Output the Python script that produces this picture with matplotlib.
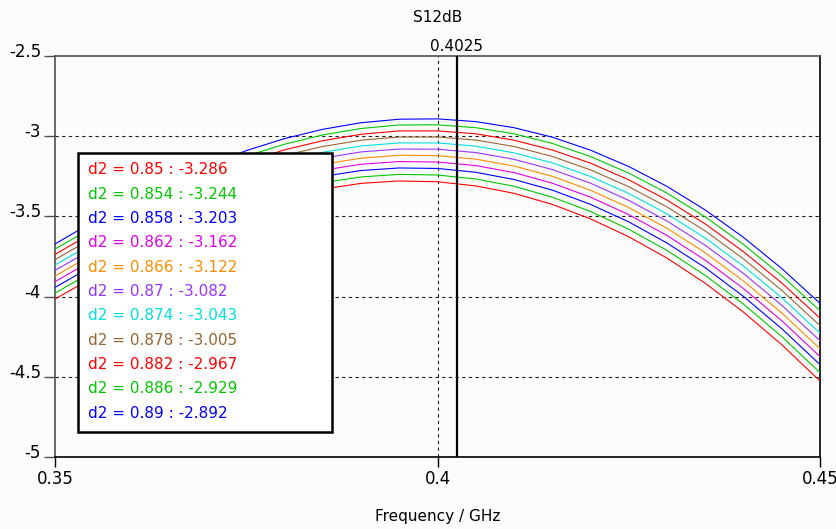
import matplotlib
matplotlib.use("Agg")
import matplotlib.pyplot as plt
from matplotlib.patches import Rectangle
from matplotlib.transforms import ScaledTranslation

plt.rcParams['font.family'] = ['Liberation Sans Narrow', 'DejaVu Sans']

# ---------------- data ----------------
freq = [0.350, 0.355, 0.360, 0.365, 0.370, 0.375, 0.380, 0.385, 0.390, 0.395, 0.400,
        0.405, 0.410, 0.415, 0.420, 0.425, 0.430, 0.435, 0.440, 0.445, 0.450]
d2_values = ['0.85', '0.854', '0.858', '0.862', '0.866', '0.87', '0.874', '0.878', '0.882', '0.886', '0.89']
marker_values = ['-3.286', '-3.244', '-3.203', '-3.162', '-3.122', '-3.082', '-3.043', '-3.005', '-2.967', '-2.929', '-2.892']
marker_freq = 0.4025

s12_d2_0850 = [-4.015, -3.880, -3.753, -3.640, -3.539, -3.453, -3.382, -3.330, -3.294, -3.279, -3.284,
               -3.310, -3.356, -3.425, -3.515, -3.627, -3.760, -3.917, -4.097, -4.300, -4.526]
s12_d2_0854 = [-3.978, -3.842, -3.716, -3.602, -3.501, -3.414, -3.343, -3.290, -3.254, -3.238, -3.242,
               -3.267, -3.312, -3.380, -3.469, -3.580, -3.712, -3.868, -4.047, -4.249, -4.474]
s12_d2_0858 = [-3.943, -3.806, -3.679, -3.565, -3.464, -3.376, -3.305, -3.251, -3.214, -3.198, -3.201,
               -3.225, -3.270, -3.336, -3.425, -3.534, -3.666, -3.820, -3.999, -4.200, -4.424]
s12_d2_0862 = [-3.907, -3.770, -3.643, -3.529, -3.426, -3.338, -3.266, -3.212, -3.175, -3.158, -3.161,
               -3.183, -3.227, -3.293, -3.380, -3.489, -3.619, -3.773, -3.950, -4.150, -4.374]
s12_d2_0866 = [-3.872, -3.735, -3.607, -3.493, -3.390, -3.302, -3.229, -3.175, -3.137, -3.119, -3.121,
               -3.143, -3.186, -3.250, -3.337, -3.445, -3.574, -3.727, -3.903, -4.102, -4.325]
s12_d2_0870 = [-3.837, -3.700, -3.572, -3.457, -3.354, -3.265, -3.192, -3.137, -3.098, -3.080, -3.081,
               -3.102, -3.144, -3.208, -3.293, -3.400, -3.529, -3.680, -3.856, -4.054, -4.275]
s12_d2_0874 = [-3.803, -3.666, -3.537, -3.422, -3.318, -3.229, -3.156, -3.100, -3.061, -3.042, -3.042,
               -3.062, -3.104, -3.166, -3.251, -3.357, -3.484, -3.635, -3.810, -4.007, -4.227]
s12_d2_0878 = [-3.770, -3.632, -3.504, -3.388, -3.284, -3.194, -3.120, -3.064, -3.025, -3.005, -3.005,
               -3.024, -3.064, -3.126, -3.210, -3.315, -3.441, -3.591, -3.765, -3.961, -4.181]
s12_d2_0882 = [-3.737, -3.599, -3.470, -3.353, -3.249, -3.159, -3.085, -3.028, -2.988, -2.967, -2.967,
               -2.985, -3.025, -3.086, -3.168, -3.272, -3.398, -3.547, -3.720, -3.915, -4.134]
s12_d2_0886 = [-3.704, -3.566, -3.436, -3.319, -3.215, -3.124, -3.050, -2.992, -2.952, -2.930, -2.929,
               -2.947, -2.985, -3.045, -3.127, -3.230, -3.355, -3.503, -3.675, -3.870, -4.088]
s12_d2_0890 = [-3.672, -3.533, -3.403, -3.286, -3.181, -3.090, -3.015, -2.957, -2.916, -2.894, -2.892,
               -2.909, -2.947, -3.006, -3.087, -3.189, -3.313, -3.460, -3.631, -3.825, -4.042]

series = [s12_d2_0850, s12_d2_0854, s12_d2_0858, s12_d2_0862, s12_d2_0866, s12_d2_0870,
          s12_d2_0874, s12_d2_0878, s12_d2_0882, s12_d2_0886, s12_d2_0890]

x_ticks = [0.35, 0.4, 0.45]
x_ticklabels = ['0.35', '0.4', '0.45']
y_ticks = [-5, -4.5, -4, -3.5, -3, -2.5]
y_ticklabels = ['-5', '-4.5', '-4', '-3.5', '-3', '-2.5']

colors = ['#FF0000', '#00C800', '#0000FF', '#E600E6', '#FF8C00', '#9933FF',
          '#00E0E0', '#996633', '#FF0000', '#00C800', '#0000FF']

# ---------------- figure ----------------
W, H = 837, 529
fig = plt.figure(figsize=(W / 100, H / 100), dpi=100, facecolor='#FCFCFC')
ax_l, ax_r, ax_t, ax_b = 55, 820, 56, 457
ax = fig.add_axes([ax_l / W, 1 - ax_b / H, (ax_r - ax_l) / W, (ax_b - ax_t) / H])
ax.set_facecolor('#FCFCFC')

for s, c in zip(series, colors):
    ax.plot(freq, s, color=c, lw=0.8, zorder=3)

ax.set_xlim(0.35, 0.45)
ax.set_ylim(-5, -2.5)

# grid
for yv in [-3, -3.5, -4, -4.5]:
    ax.axhline(yv, color='#202020', lw=0.8, ls=(0, (3, 3)), zorder=2)
ax.axvline(0.4, color='#202020', lw=0.8, ls=(0, (3, 3)), zorder=2)

# marker
ax.axvline(marker_freq, color='black', lw=1.6, zorder=4)
t = ax.text(marker_freq, -2.5, '%.4f' % marker_freq, ha='center', va='bottom', fontsize=11)
t.set_transform(ax.transData + ScaledTranslation(0, 0.02, fig.dpi_scale_trans))

# spines
for side in ['left', 'top']:
    ax.spines[side].set_color('#505050')
for side in ['right', 'bottom']:
    ax.spines[side].set_color('black')
for sp in ax.spines.values():
    sp.set_linewidth(1.2)

ax.set_xticks(x_ticks)
ax.set_xticklabels(x_ticklabels)
ax.set_yticks(y_ticks)
ax.set_yticklabels(y_ticklabels)
ax.tick_params(axis='y', direction='out', length=8, width=1, color='#505050', labelsize=12, pad=2)
ax.tick_params(axis='x', direction='out', length=7, width=1, color='black', labelsize=12, pad=2)
for lab in ax.get_yticklabels():
    lab.set_transform(lab.get_transform() + ScaledTranslation(0, 0.06, fig.dpi_scale_trans))

fig.text((ax_l + ax_r) / 2 / W, 1 - 18 / H, 'S12dB', ha='center', va='center', fontsize=11)
fig.text((ax_l + ax_r) / 2 / W, 1 - 517 / H, 'Frequency / GHz', ha='center', va='center', fontsize=11)

# legend box
aw, ah = ax_r - ax_l, ax_b - ax_t
bx0, bx1, by0, by1 = 78, 332, 153, 432
ax.add_patch(Rectangle(((bx0 - ax_l) / aw, (ax_b - by1) / ah), (bx1 - bx0) / aw, (by1 - by0) / ah,
                       transform=ax.transAxes, facecolor='white', edgecolor='black', lw=1.8, zorder=10))
row_y0, row_dy = 170, 24.3
for i, (d2, mv, c) in enumerate(zip(d2_values, marker_values, colors)):
    yy = row_y0 + i * row_dy
    ax.text((88 - ax_l) / aw, (ax_b - yy) / ah, 'd2 = %s : %s' % (d2, mv), color=c,
            fontsize=11, ha='left', va='center', transform=ax.transAxes, zorder=11)

fig.savefig('out.png', dpi=100, facecolor=fig.get_facecolor())
